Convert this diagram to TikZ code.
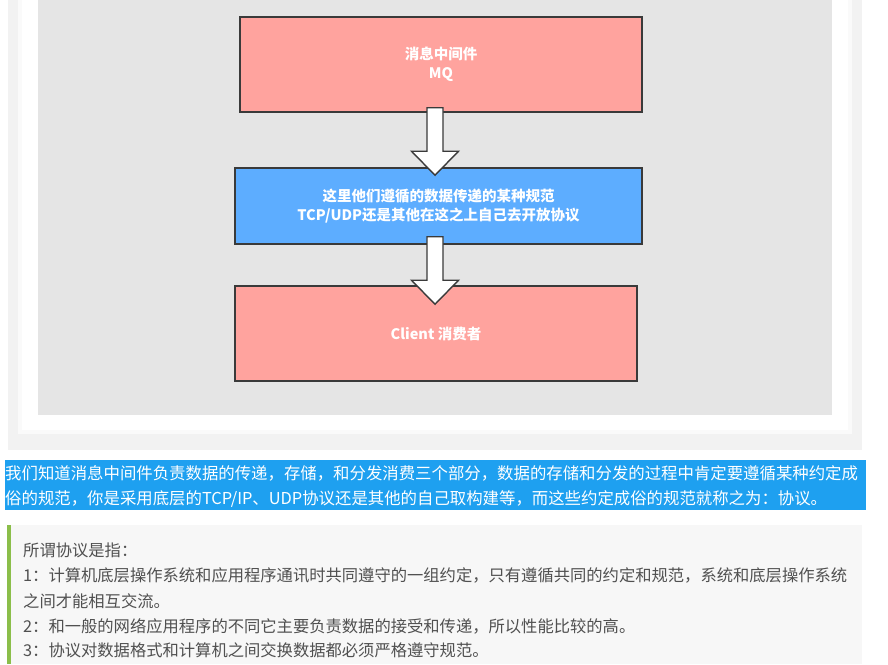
\documentclass[tikz,border=0pt]{standalone}
\usepackage{fontspec}
\newfontfamily\cjk{Noto Sans CJK SC}
\usetikzlibrary{calc}
\definecolor{salmon}{RGB}{255,163,158}
\definecolor{boxblue}{RGB}{93,173,255}
\definecolor{hilite}{RGB}{30,160,240}
\definecolor{grayarea}{RGB}{229,229,229}
\definecolor{panel}{RGB}{242,242,242}
\definecolor{quotebg}{RGB}{247,247,247}
\definecolor{quotebar}{RGB}{139,190,74}
\definecolor{quotetext}{RGB}{80,80,80}
\definecolor{boxline}{RGB}{58,58,58}
\tikzset{
  flowbox/.style={draw=boxline, line width=1.5pt, align=center, inner sep=0pt,
    font=\cjk\bfseries\fontsize{14.5}{19}\selectfont, text=white},
  blk/.style={draw=boxline, line width=1.4pt, fill=white, line join=miter},
  hltext/.style={anchor=west, inner sep=0pt, text=white, font=\cjk\fontsize{16.4}{20}\selectfont},
  qtext/.style={anchor=west, inner sep=0pt, text=quotetext, font=\cjk\fontsize{16.3}{20}\selectfont},
}
\newcommand{\blockarrow}[2]{%
  \draw[blk] ($(#1)+(-8,0)$) -- ($(#2)+(-8,-24)$) -- ($(#2)+(-23.5,-24)$) -- (#2)
    -- ($(#2)+(23.5,-24)$) -- ($(#2)+(8,-24)$) -- ($(#1)+(8,0)$) -- cycle;}
\begin{document}
\begin{tikzpicture}[x=1pt,y=-1pt]
\useasboundingbox (0,0) rectangle (888,664);
\fill[white] (0,0) rectangle (888,664);
% screenshot panel
\fill[panel] (8,0) rectangle (862,450);
\fill[white!60!panel] (18,0) rectangle (852,434);
\fill[white] (22,0) rectangle (848,430);
\fill[grayarea] (38,0) rectangle (832,415);
% boxes
\node[flowbox, fill=salmon, minimum width=402, minimum height=95] (mq) at (441,64.5) {消息中间件\\MQ};
\node[flowbox, fill=boxblue, minimum width=407, minimum height=76] (proto) at (438.5,206) {这里他们遵循的数据传递的某种规范\\TCP/UDP还是其他在这之上自己去开放协议};
\node[flowbox, fill=salmon, minimum width=402, minimum height=95] (client) at (436,333.5) {Client 消费者};
% arrows
\coordinate (a1s) at ($(mq.south)+(-6,-5)$);
\coordinate (a1e) at ($(proto.north)+(-3.5,8)$);
\coordinate (a2s) at ($(proto.south)+(-3.5,-8)$);
\coordinate (a2e) at ($(client.north)+(-1,19)$);
\blockarrow{a1s}{a1e}
\blockarrow{a2s}{a2e}
% highlighted paragraph
\fill[hilite] (5,460) rectangle (866,510);
\node[hltext] (h1) at (5,473) {我们知道消息中间件负责数据的传递，存储，和分发消费三个部分，数据的存储和分发的过程中肯定要遵循某种约定成};
\node[hltext] (h2) at (5,499) {俗的规范，你是采用底层的TCP/IP、UDP协议还是其他的自己取构建等，而这些约定成俗的规范就称之为：协议。};
% quote block
\fill[quotebg] (7,525) rectangle (862,664);
\fill[quotebar] (7,525) rectangle (11,664);
\node[qtext] (q1) at (23,550) {所谓协议是指：};
\node[qtext] (q2) at (23,575.5) {1：计算机底层操作系统和应用程序通讯时共同遵守的一组约定，只有遵循共同的约定和规范，系统和底层操作系统};
\node[qtext] (q3) at (23,601) {之间才能相互交流。};
\node[qtext] (q4) at (23,626) {2：和一般的网络应用程序的不同它主要负责数据的接受和传递，所以性能比较的高。};
\node[qtext] (q5) at (23,650) {3：协议对数据格式和计算机之间交换数据都必须严格遵守规范。};
\end{tikzpicture}
\end{document}
